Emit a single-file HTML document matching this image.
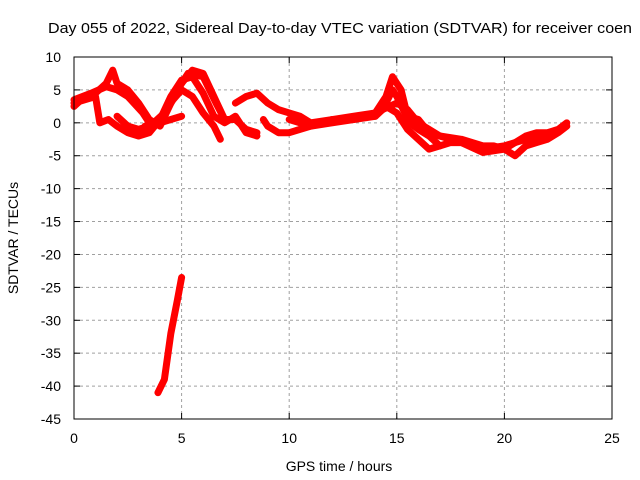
<!DOCTYPE html>
<html><head><meta charset="utf-8"><style>
body{margin:0;background:#fff}
svg{display:block;font-family:"Liberation Sans",sans-serif;font-size:14px}
</style></head><body>
<svg id="c" width="640" height="480">
<text x="48" y="33" font-size="15" textLength="584" lengthAdjust="spacingAndGlyphs">Day 055 of 2022, Sidereal Day-to-day VTEC variation (SDTVAR) for receiver coen</text>
<text x="339" y="471" text-anchor="middle">GPS time / hours</text>
<text transform="translate(18,238) rotate(-90)" text-anchor="middle">SDTVAR / TECUs</text>
<g id="grid"></g><g id="ticks"></g><g id="marks"></g>
<rect x="74" y="57" width="538" height="362" fill="none" stroke="#000" stroke-width="1"/>
</svg>
<script>
const xTicks=[0,5,10,15,20,25];
const yTicks=[10,5,0,-5,-10,-15,-20,-25,-30,-35,-40,-45];
const track1=[[0,2.5],[0.5,4],[1,4.5],[1.5,6],[1.8,8],[2,6],[2.5,5],[3,3],[3.5,0.5],[4,-0.5],[4.5,3],[5,6],[5.5,8],[6,7.5],[6.5,4],[7,0.5],[7.5,0.5],[8,-1],[8.5,-1.5]];
const track2=[[0,3],[1,4],[1.2,0],[1.6,0.5],[2,-0.5],[2.5,-1.5],[3,-2],[3.5,-1.5],[4,0.5],[4.5,4],[5,6.5],[5.5,7],[6,4.5],[6.5,1],[7,0],[7.5,1],[8,-1.5],[8.5,-2]];
const track3=[[3.3,-0.5],[3.7,0],[4.2,1.5],[4.6,3.5],[5,5],[5.5,4],[6,1.5],[6.5,-0.5],[6.8,-2.5]];
const track4=[[2,1],[2.5,-0.5],[3,-1],[3.5,-0.5],[4,0],[4.5,0.5],[5,1]];
const track5=[[7.5,3],[8,4],[8.5,4.5],[9,3],[9.5,2],[10,1.5],[10.5,1],[11,0],[12,0.5],[13,1],[14,1.5],[14.5,4],[14.8,7],[15.2,5],[15.5,1],[16,0.5],[16.5,-1.5],[17,-2],[18,-2.5],[19,-3.5],[19.5,-3.5],[20,-4],[20.5,-3],[21,-2],[21.5,-1.5],[22,-1.5],[22.5,-1],[22.9,0]];
const track6=[[8.8,0.5],[9,-0.5],[9.5,-1.5],[10,-1.5],[10.5,-1],[11,-0.5],[12,0],[13,0.5],[14,1],[14.5,2.5],[15,1.5],[15.5,-1],[16,-2.5],[16.5,-4],[17,-3.5],[17.5,-3],[18,-3],[19,-4.5],[20,-4],[20.5,-5],[21,-3.5],[21.5,-3],[22,-2.5],[22.5,-1.5],[22.9,-0.5]];
const track7=[[13.5,1],[14,1],[14.5,3],[14.8,5],[15,4],[15.3,2],[15.6,0],[16,-1],[16.5,-2],[17,-3.5]];
const track8=[[3.9,-41],[4.2,-39],[4.5,-32],[4.8,-27],[5,-23.5]];
const track9=[[0,3.5],[0.8,4.5],[1.5,5.5],[2,5],[2.5,4],[3.2,1.5],[3.6,-0.5],[4.2,1],[4.8,5],[5.3,7.5],[6,7],[6.6,3],[7,0.5]];
const track10=[[10,0.5],[11,-0.5],[12,0.5],[13,0.5],[14,1.5],[15,3],[15.5,2],[16,0],[17,-2],[18,-3],[19,-4],[20,-3.5],[21,-2.5],[22,-2],[22.8,-0.5]];
const tracks=[track1,track2,track3,track4,track5,track6,track7,track8,track9,track10];
const NS='http://www.w3.org/2000/svg';
const px=x=>74+x*538/25, py=y=>57+(10-y)*362/55;
function mk(t,a,p){const e=document.createElementNS(NS,t);for(const k in a)e.setAttribute(k,a[k]);p.appendChild(e);return e;}
const g=document.getElementById('grid'),tk=document.getElementById('ticks'),m=document.getElementById('marks');
xTicks.forEach(v=>{const x=px(v);
 if(v>0&&v<25){const l=mk('line',{x1:x,x2:x,y1:57,y2:419,stroke:'#a0a0a0','stroke-dasharray':'3,3'},g);
 
 }
 mk('line',{x1:x,x2:x,y1:419,y2:413,stroke:'#000'},tk);mk('line',{x1:x,x2:x,y1:57,y2:63,stroke:'#000'},tk);
 const t=mk('text',{x:x,y:443,'text-anchor':'middle'},tk);t.textContent=v;
 
 });
yTicks.forEach(v=>{const y=py(v);
 if(v<10&&v>-45){const l=mk('line',{x1:74,x2:612,y1:y,y2:y,stroke:'#a0a0a0','stroke-dasharray':'3,3'},g);
 
 }
 mk('line',{x1:74,x2:80,y1:y,y2:y,stroke:'#000'},tk);mk('line',{x1:612,x2:606,y1:y,y2:y,stroke:'#000'},tk);
 const t=mk('text',{x:61,y:y+5,'text-anchor':'end'},tk);t.textContent=v;
 
 });
tracks.forEach(tr=>{const p=mk('polyline',{points:tr.map(d=>px(d[0])+','+py(d[1])).join(' '),fill:'none',stroke:'#f00','stroke-width':7,'stroke-linejoin':'round','stroke-linecap':'round'},m);
 
 });
</script>
</body></html>
